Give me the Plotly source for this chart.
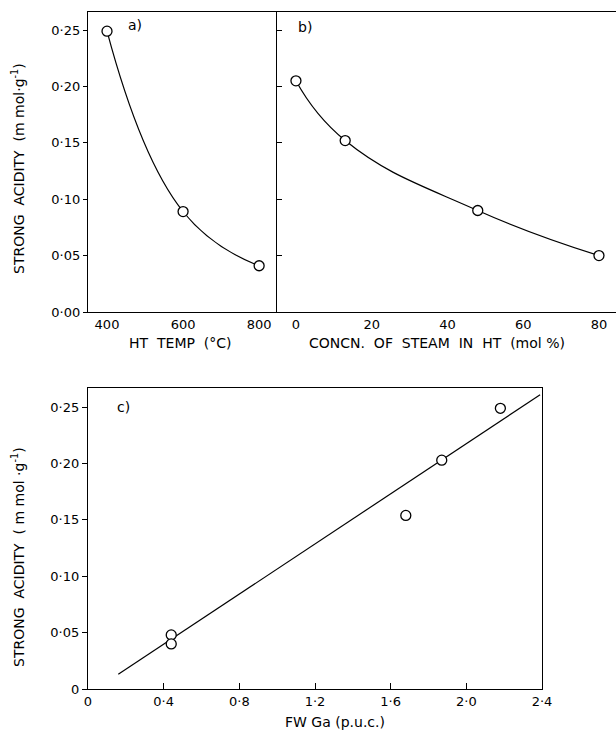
import plotly.graph_objects as go

# Panel a
ht_temp = [400, 600, 800]
acid_a = [0.249, 0.089, 0.041]
# Panel b
steam = [0, 13, 48, 80]
acid_b = [0.205, 0.152, 0.090, 0.050]
# Panel c
fw_ga = [0.44, 0.44, 1.68, 1.87, 2.18]
acid_c = [0.048, 0.040, 0.154, 0.203, 0.249]
fit_x = [0.16, 2.39]
fit_y = [0.013, 0.261]

y_vals = [0, 0.05, 0.10, 0.15, 0.20, 0.25]
y_text_a = ["0·00", "0·05", "0·10", "0·15", "0·20", "0·25"]
y_text_c = ["0", "0·05", "0·10", "0·15", "0·20", "0·25"]
xa_vals = [400, 600, 800]
xa_text = ["400", "600", "800"]
xb_vals = [0, 20, 40, 60, 80]
xb_text = ["0", "20", "40", "60", "80"]
xc_vals = [0, 0.4, 0.8, 1.2, 1.6, 2.0, 2.4]
xc_text = ["0", "0·4", "0·8", "1·2", "1·6", "2·0", "2·4"]

W, H = 616, 733
FONT = "DejaVu Sans"
FS = 14
fig = go.Figure()

line_style = dict(color="black", width=1.2, shape="spline", smoothing=1.3)
mk = dict(symbol="circle", size=10, color="white", line=dict(color="black", width=1.3))

fig.add_trace(go.Scatter(x=ht_temp, y=acid_a, mode="lines", line=line_style, xaxis="x", yaxis="y", showlegend=False))
fig.add_trace(go.Scatter(x=ht_temp, y=acid_a, mode="markers", marker=mk, xaxis="x", yaxis="y", showlegend=False, cliponaxis=False))
fig.add_trace(go.Scatter(x=steam, y=acid_b, mode="lines", line=line_style, xaxis="x2", yaxis="y2", showlegend=False))
fig.add_trace(go.Scatter(x=steam, y=acid_b, mode="markers", marker=mk, xaxis="x2", yaxis="y2", showlegend=False))
fig.add_trace(go.Scatter(x=fit_x, y=fit_y, mode="lines", line=dict(color="black", width=1.2), xaxis="x3", yaxis="y3", showlegend=False))
fig.add_trace(go.Scatter(x=fw_ga, y=acid_c, mode="markers", marker=mk, xaxis="x3", yaxis="y3", showlegend=False))

def px(v):
    return v / W

def py(v):
    return 1 - v / H

tf = dict(family=FONT, size=FS - 1, color="black")
common = dict(showgrid=False, zeroline=False, linecolor="black", linewidth=1.3, tickfont=tf,
              tickcolor="black", tickwidth=1.2, automargin=False)

fig.update_layout(
    width=W, height=H, margin=dict(l=0, r=0, t=0, b=0),
    paper_bgcolor="white", plot_bgcolor="white",
    font=dict(family=FONT, size=FS, color="black"),
    xaxis=dict(domain=[px(88), px(277)], range=[350, 847], tickvals=xa_vals, ticktext=xa_text,
               ticks="", showline=True, mirror=True, anchor="y", **common),
    yaxis=dict(domain=[py(312), py(12)], range=[0, 0.266], tickvals=y_vals, ticktext=y_text_a,
               ticks="outside", ticklen=4, showline=True, mirror=False, anchor="x", **common),
    xaxis2=dict(domain=[px(277), 1.0], range=[-5, 84.5], tickvals=xb_vals, ticktext=xb_text,
                ticks="", showline=True, mirror=True, anchor="y2", **common),
    yaxis2=dict(domain=[py(312), py(12)], range=[0, 0.266], tickvals=y_vals, showticklabels=False,
                ticks="inside", ticklen=5, showline=True, anchor="x2", **common),
    xaxis3=dict(domain=[px(88), px(542)], range=[0, 2.4], tickvals=xc_vals, ticktext=xc_text,
                ticks="inside", ticklen=6, showline=True, mirror=True, anchor="y3", **common),
    yaxis3=dict(domain=[py(689), py(388)], range=[0, 0.267], tickvals=y_vals, ticktext=y_text_c,
                ticks="outside", ticklen=5, showline=True, mirror=True, anchor="x3", **common),
)

ann = [
    dict(text="a)", x=px(126), y=py(25), xanchor="left", yanchor="middle"),
    dict(text="b)", x=px(296), y=py(27), xanchor="left", yanchor="middle"),
    dict(text="c)", x=px(115), y=py(407), xanchor="left", yanchor="middle"),
    dict(text="HT  TEMP  (°C)", x=px(180), y=py(343), xanchor="center", yanchor="middle"),
    dict(text="CONCN.  OF  STEAM  IN  HT  (mol %)", x=px(437), y=py(343), xanchor="center", yanchor="middle"),
    dict(text="FW Ga (p.u.c.)", x=px(335), y=py(722), xanchor="center", yanchor="middle"),
    dict(text="STRONG  ACIDITY  (m mol·g<sup>-1</sup>)", x=px(18), y=py(169), xanchor="center", yanchor="middle", textangle=-90),
    dict(text="STRONG  ACIDITY  ( m mol ·g<sup>-1</sup>)", x=px(18), y=py(557), xanchor="center", yanchor="middle", textangle=-90),
]
for a in ann:
    a.update(xref="paper", yref="paper", showarrow=False, font=dict(family=FONT, size=FS, color="black"))
fig.update_layout(annotations=ann)

fig.write_html("out.html", config={"displayModeBar": False},
               post_script="document.body.style.margin='0';document.body.style.overflow='hidden';")
